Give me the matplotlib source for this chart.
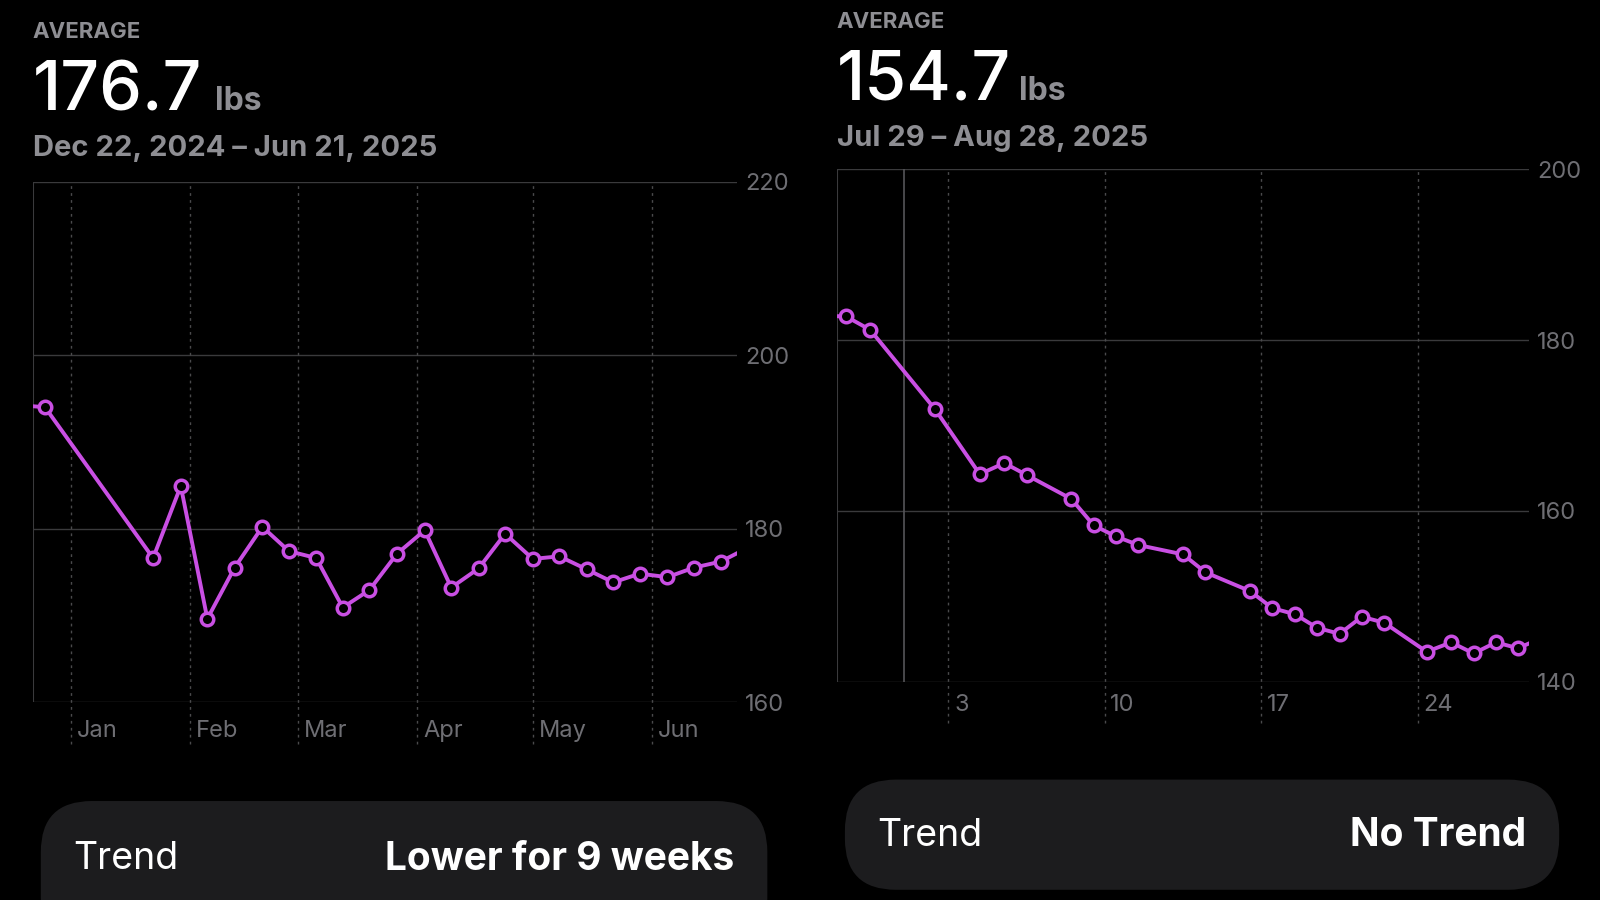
import matplotlib
matplotlib.use("Agg")
import matplotlib.pyplot as plt
from matplotlib.patches import FancyBboxPatch

plt.rcParams['font.family'] = ['Inter', 'DejaVu Sans']

# Left chart data (days since Dec 22, 2024)
left_days = [-3.0, 3.2, 31.3, 38.5, 45.4, 52.5, 59.7, 66.6, 73.7, 80.6, 87.5, 94.7, 101.9, 108.8, 115.9, 122.8, 130.0, 136.9, 144.0, 150.9, 157.8, 165.0, 171.9, 178.9, 185.9]
left_vals = [194.2, 194.0, 176.6, 184.9, 169.6, 175.5, 180.2, 177.4, 176.6, 170.9, 172.9, 177.1, 179.8, 173.2, 175.4, 179.4, 176.5, 176.8, 175.3, 173.8, 174.8, 174.4, 175.5, 176.2, 177.8]
left_marked = slice(1, -1)
left_month_days = [10, 41, 69, 100, 130, 161]
left_month_labels = ["Jan", "Feb", "Mar", "Apr", "May", "Jun"]
left_yticks = [160, 180, 200, 220]

# Right chart data (days since Jul 29, 2025)
right_days = [-0.4, 0.4, 1.5, 4.4, 6.4, 7.5, 8.5, 10.5, 11.5, 12.5, 13.5, 15.5, 16.5, 18.5, 19.5, 20.5, 21.5, 22.5, 23.5, 24.5, 26.4, 27.5, 28.5, 29.5, 30.5, 31.0]
right_vals = [182.8, 182.8, 181.2, 171.9, 164.3, 165.6, 164.2, 161.4, 158.3, 157.0, 156.0, 154.9, 152.8, 150.6, 148.6, 147.9, 146.3, 145.6, 147.6, 146.9, 143.5, 144.6, 143.3, 144.6, 143.9, 144.5]
right_marked = slice(1, -1)
right_tick_days = [5, 12, 19, 26]
right_tick_labels = ["3", "10", "17", "24"]
right_yticks = [140, 160, 180, 200]

W, H = 1568, 882
fig = plt.figure(figsize=(16, 9), dpi=100, facecolor='black')

LINE = '#c94fe3'
GRID = '#3a3a3c'
TICK = '#6e6e73'

def panel(rect, days, vals, marked, xlim, ylim, yticks, xt, xtl, label_off, extra_vline=None):
    x, y, w, h = rect
    ax = fig.add_axes([x / W, 1 - (y + h) / H, w / W, h / H])
    ax.set_facecolor('black')
    ax.set_xlim(*xlim); ax.set_ylim(*ylim)
    for s in ax.spines.values():
        s.set_visible(False)
    ax.axvline(xlim[0], color=GRID, lw=1.5)
    for v in yticks:
        ax.axhline(v, color=GRID, lw=1)
    for d in xt:
        ax.plot([d, d], [ylim[0] - (ylim[1] - ylim[0]) * 0.08, ylim[1]], color='#4a4a4c',
                lw=1, ls=(0, (2, 3)), clip_on=False)
    if extra_vline is not None:
        ax.axvline(extra_vline, color='#555558', lw=1.2)
    ax.plot(days, vals, color=LINE, lw=2.8, clip_on=True, zorder=3)
    ax.plot(days[marked], vals[marked], ls='none', marker='o', ms=9, mfc='black',
            mec=LINE, mew=2.5, zorder=4)
    ax.yaxis.tick_right()
    ax.set_yticks(yticks)
    ax.set_yticklabels([str(v) for v in yticks], color=TICK, fontsize=17)
    ax.tick_params(axis='y', length=0, pad=6)
    ax.set_xticks([])
    for d, l in zip(xt, xtl):
        ax.text(d + (xlim[1] - xlim[0]) * 0.008, ylim[0] - (ylim[1] - ylim[0]) * label_off,
                l, color=TICK, fontsize=17, ha='left', va='top')
    return ax

panel((32, 178, 690, 510), left_days, left_vals, left_marked, (0, 183), (160, 220),
      left_yticks, left_month_days, left_month_labels, 0.035)
panel((820, 166, 678, 502), right_days, right_vals, right_marked, (0, 30.96), (140, 200),
      right_yticks, right_tick_days, right_tick_labels, 0.025, extra_vline=3.0)

ov = fig.add_axes([0, 0, 1, 1]); ov.set_xlim(0, W); ov.set_ylim(H, 0); ov.axis('off')
ov.patch.set_alpha(0)

def header(x, ytop, val, dates):
    ov.text(x, ytop + 4, "AVERAGE", color='#8e8e93', fontsize=16, fontweight='bold', va='top')
    ov.text(x, ytop + 90, val, color='white', fontsize=49, fontweight='medium', va='baseline')
    ov.text(x + 179, ytop + 90, "lbs", color='#8e8e93', fontsize=23, fontweight='bold', va='baseline')
    ov.text(x, ytop + 135, dates, color='#8e8e93', fontsize=21, fontweight='bold', va='baseline')

header(32, 18, "176.7", "Dec 22, 2024 – Jun 21, 2025")
header(820, 8, "154.7", "Jul 29 – Aug 28, 2025")

def pill(x0, y0, x1, y1, yc, right_text):
    p = FancyBboxPatch((x0, y0), x1 - x0, y1 - y0, boxstyle="round,pad=0,rounding_size=50",
                       fc='#1c1c1e', ec='none')
    ov.add_patch(p)
    ov.text(x0 + 32, yc, "Trend", color='white', fontsize=27, va='center')
    ov.text(x1 - 32, yc, right_text, color='white', fontsize=28, fontweight='bold',
            va='center', ha='right')

pill(40, 785, 752, 930, 842, "Lower for 9 weeks")
pill(828, 764, 1528, 872, 819, "No Trend")

fig.savefig("out.png", dpi=100, facecolor='black')
